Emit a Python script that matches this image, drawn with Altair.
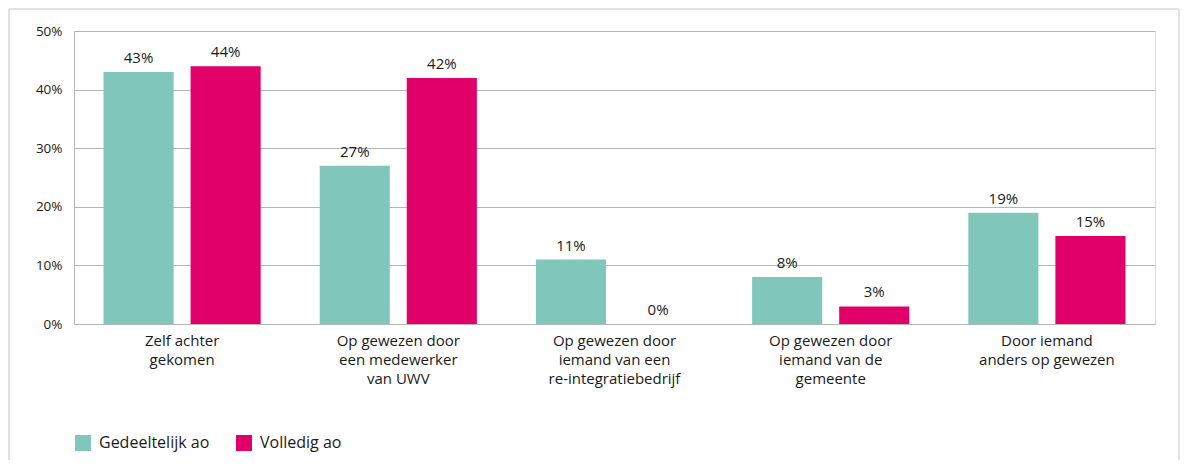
import altair as alt
import pandas as pd

categories = [
    "Zelf achter\ngekomen",
    "Op gewezen door\neen medewerker\nvan UWV",
    "Op gewezen door\niemand van een\nre-integratiebedrijf",
    "Op gewezen door\niemand van de\ngemeente",
    "Door iemand\nanders op gewezen",
]
series = ["Gedeeltelijk ao", "Volledig ao"]
gedeeltelijk = [43, 27, 11, 8, 19]
volledig = [44, 42, 0, 3, 15]
colors = ["#80C6BA", "#E10069"]
y_ticks = [0, 10, 20, 30, 40, 50]

rows = []
for c, g, v in zip(categories, gedeeltelijk, volledig):
    rows.append({"cat": c, "serie": series[0], "val": g})
    rows.append({"cat": c, "serie": series[1], "val": v})
df = pd.DataFrame(rows)

FONT = "Open Sans"
TXT = "#1a1a1a"

x = alt.X("cat:N", sort=categories, title=None,
          scale=alt.Scale(paddingInner=0, paddingOuter=0),
          axis=alt.Axis(labelExpr="split(datum.label, '\\n')", labelAngle=0,
                        labelFontSize=15, labelLineHeight=19, labelPadding=9,
                        labelColor=TXT, labelFont=FONT, ticks=False, domain=False,
                        grid=False, labelBaseline="top"))
xo = alt.XOffset("serie:N", sort=series,
                 scale=alt.Scale(paddingInner=0.195, paddingOuter=0.339))
y = alt.Y("val:Q", title=None,
          scale=alt.Scale(domain=[0, 50], nice=False),
          axis=alt.Axis(values=y_ticks, labelExpr="datum.value + '%'",
                        labelFontSize=13.5, labelPadding=12, labelColor=TXT,
                        labelFont=FONT, ticks=False, domain=True,
                        domainColor="#b5b5b5", gridColor="#b5b5b5", gridWidth=1.2))
color = alt.Color("serie:N", sort=series,
                  scale=alt.Scale(domain=series, range=colors),
                  legend=alt.Legend(title=None, orient="none", legendX=1, legendY=404,
                                    direction="horizontal", symbolType="square",
                                    symbolSize=256, symbolStrokeWidth=0,
                                    labelFontSize=16, labelFont=FONT, labelColor=TXT,
                                    columnPadding=26, labelOffset=8))

bars = alt.Chart(df).mark_bar().encode(x=x, xOffset=xo, y=y, color=color)
labels = alt.Chart(df).mark_text(baseline="bottom", dy=-6, fontSize=15,
                                 font=FONT, color=TXT).encode(
    x=x, xOffset=xo, y=y, text=alt.Text("label:N")
).transform_calculate(label="datum.val + '%'")

frame_col = "#e2e2e2"
frame_left = alt.Chart(df).mark_rule(color=frame_col, strokeWidth=2).encode(
    x=alt.value(-65), y=alt.value(-22), y2=alt.value(430))
frame_top = alt.Chart(df).mark_rule(color=frame_col, strokeWidth=2).encode(
    x=alt.value(-65), x2=alt.value(1105), y=alt.value(-22))
frame_right = alt.Chart(df).mark_rule(color=frame_col, strokeWidth=2).encode(
    x=alt.value(1105), y=alt.value(-22), y2=alt.value(430))

chart = alt.layer(frame_left, frame_top, frame_right, bars, labels).properties(
    width=1081, height=293,
    autosize=alt.AutoSizeParams(type="none"),
    padding={"left": 66, "top": 23, "right": 25, "bottom": 136},
).configure_view(stroke=None).configure(font=FONT)

chart.save("out.html", embed_options={"renderer": "svg", "actions": False})
